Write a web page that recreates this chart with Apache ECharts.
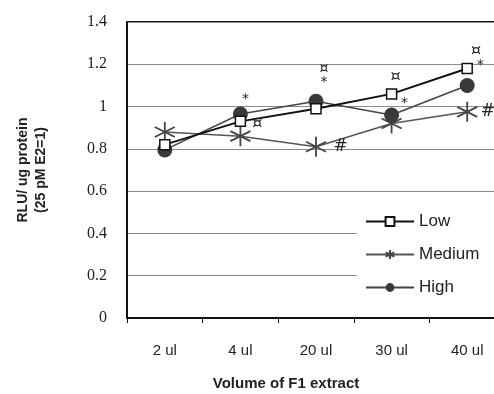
<!DOCTYPE html>
<html>
<head>
<meta charset="utf-8">
<script src="https://cdn.jsdelivr.net/npm/echarts@6/dist/echarts.min.js"></script>
<style>
html,body{margin:0;padding:0;background:#fff;}
#chart{width:494px;height:394px;}
</style>
</head>
<body>
<div id="chart"></div>
<script>
var categories = ['2 ul', '4 ul', '20 ul', '30 ul', '40 ul'];
var yTicks = [0, 0.2, 0.4, 0.6, 0.8, 1, 1.2, 1.4];
var lowData = [0.82, 0.93, 0.99, 1.06, 1.18];
var mediumData = [0.88, 0.86, 0.81, 0.92, 0.975];
var highData = [0.795, 0.965, 1.025, 0.96, 1.10];
// significance marks: [category index, text]
var lowMarks = [[1, '¤'], [3, '¤'], [4, '¤']];
var mediumMarks = [[2, '#'], [4, '#']];
var highMarks = [[1, '*'], [2, '¤\n*'], [3, '*'], [4, '*']];

var starPath = 'path://M0,-10L0,10M-8.66,-5L8.66,5M-8.66,5L8.66,-5';

function withMarks(values, marks, pos, size) {
    var out = values.map(function (v) { return {value: v}; });
    marks.forEach(function (m) {
        var p = pos[m[0]];
        out[m[0]].label = {
            show: true,
            formatter: m[1],
            position: p.position,
            offset: p.offset,
            fontFamily: 'DejaVu Sans',
            fontSize: size,
            lineHeight: 13,
            color: '#222'
        };
    });
    return out;
}

var chart = echarts.init(document.getElementById('chart'));
var option = {
    animation: false,
    backgroundColor: '#fff',
    grid: {left: 127, width: 378, top: 22, bottom: 76, outerBoundsMode: 'none'},
    xAxis: {
        type: 'category',
        data: categories,
        axisLine: {lineStyle: {color: '#111', width: 2}},
        axisTick: {show: true, length: 5, lineStyle: {color: '#111', width: 1}},
        axisLabel: {margin: 25, fontFamily: 'Liberation Sans', fontSize: 15, color: '#222'},
        splitLine: {show: false}
    },
    yAxis: {
        type: 'value',
        min: 0, max: 1.4, interval: 0.2,
        axisLine: {show: true, lineStyle: {color: '#111', width: 2}},
        axisTick: {show: false},
        axisLabel: {
            margin: 20, fontFamily: 'Liberation Serif', fontSize: 16, color: '#222',
            formatter: function (v) { return String(Math.round(v * 10) / 10); }
        },
        splitLine: {show: true, lineStyle: {color: '#8a8a8a', width: 1.2}}
    },
    legend: {
        orient: 'vertical',
        left: 357, top: 209,
        padding: [4, 40, 6, 8],
        backgroundColor: '#fff',
        itemWidth: 48, itemHeight: 11, itemGap: 16,
        textStyle: {fontFamily: 'Liberation Sans', fontSize: 17, color: '#222'},
        data: ['Low', 'Medium', 'High']
    },
    graphic: [
        {type: 'line', shape: {x1: 127, y1: 22, x2: 494, y2: 22}, style: {stroke: '#111', lineWidth: 2}},
        {type: 'text', x: 32, y: 170, rotation: Math.PI / 2, style: {
            text: 'RLU/ ug protein\n(25 pM E2=1)', align: 'center', verticalAlign: 'middle',
            fontFamily: 'Liberation Sans', fontWeight: 'bold', fontSize: 14, lineHeight: 18, fill: '#222'
        }},
        {type: 'text', x: 286, y: 384, style: {
            text: 'Volume of F1 extract', align: 'center', verticalAlign: 'middle',
            fontFamily: 'Liberation Sans', fontWeight: 'bold', fontSize: 15, fill: '#222'
        }}
    ],
    series: [
        {
            name: 'Low', type: 'line',
            data: withMarks(lowData, lowMarks, {
                1: {position: 'right', offset: [1, 2]},
                3: {position: 'top', offset: [4, 0]},
                4: {position: 'top', offset: [9, 0]}
            }, 16),
            symbol: 'rect', symbolSize: 10, z: 4,
            lineStyle: {color: '#111', width: 2},
            itemStyle: {color: '#fff', borderColor: '#111', borderWidth: 1.5}
        },
        {
            name: 'Medium', type: 'line',
            data: withMarks(mediumData, mediumMarks, {
                2: {position: 'right', offset: [0, 0]},
                4: {position: 'right', offset: [-4, 0]}
            }, 17),
            symbol: starPath, symbolSize: 20, z: 2,
            lineStyle: {color: '#555', width: 1.5},
            itemStyle: {color: 'none', borderColor: '#444', borderWidth: 1.8}
        },
        {
            name: 'High', type: 'line',
            data: withMarks(highData, highMarks, {
                1: {position: 'top', offset: [5, 4]},
                2: {position: 'top', offset: [8, 0]},
                3: {position: 'right', offset: [-3, -12]},
                4: {position: 'top', offset: [13, -1]}
            }, 14),
            symbol: 'circle', symbolSize: 15, z: 3,
            lineStyle: {color: '#444', width: 1.5},
            itemStyle: {color: '#3a3a3a'}
        }
    ]
};
chart.setOption(option);
</script>
</body>
</html>
